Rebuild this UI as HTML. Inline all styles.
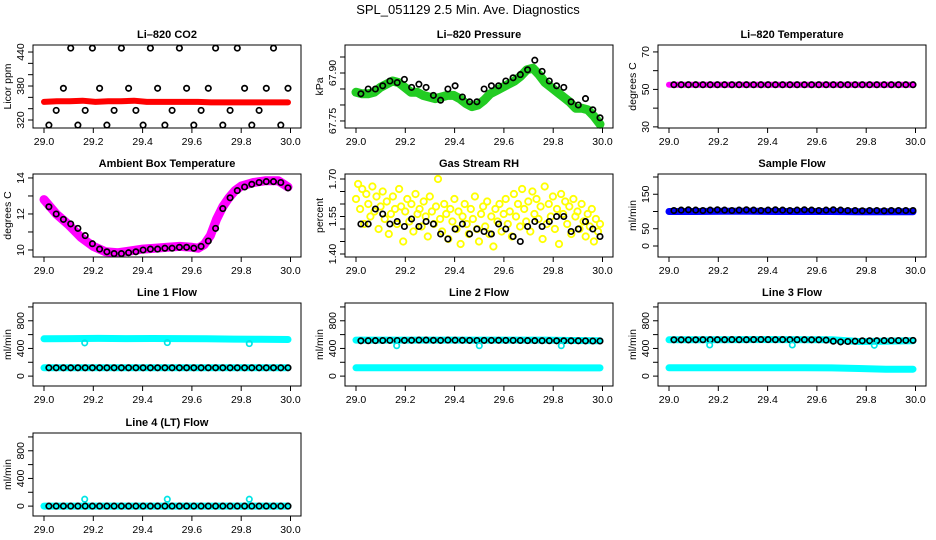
<!DOCTYPE html>
<html><head><meta charset="utf-8"><style>
html,body{margin:0;padding:0;background:#fff;}
svg{display:block;font-family:"Liberation Sans",Arial,sans-serif;}
</style></head><body>
<svg id="c" width="936" height="540" viewBox="0 0 936 540" xmlns="http://www.w3.org/2000/svg">
<text x="468" y="14" text-anchor="middle" font-size="13">SPL_051129  2.5 Min. Ave. Diagnostics</text>
</svg>
<script>
// ---- data ----
const xTicks = [29.0, 29.2, 29.4, 29.6, 29.8, 30.0];
const xTickLabels = ["29.0","29.2","29.4","29.6","29.8","30.0"];
const blackStart = 29.02, blackEnd = 29.99, blackCount = 34;
const co2Black = [311,337,376,447,311,337,447,376,311,337,447,376,337,311,447,376,311,337,447,376,311,337,376,447,311,337,447,376,311,337,376,447,311,376];
const co2Red = [352,353,353,354,352,353,353,354,352,352,352,352,352,351,351,351,351,351,351,351];
const presGreen = [67.84,67.835,67.835,67.84,67.855,67.865,67.875,67.87,67.855,67.84,67.84,67.83,67.825,67.82,67.825,67.83,67.83,67.82,67.805,67.795,67.80,67.815,67.835,67.845,67.855,67.865,67.875,67.89,67.91,67.915,67.895,67.87,67.855,67.84,67.825,67.81,67.79,67.79,67.785,67.765,67.74];
const presBlack = [67.835,67.85,67.85,67.86,67.875,67.87,67.88,67.855,67.865,67.855,67.83,67.815,67.85,67.86,67.825,67.81,67.81,67.85,67.86,67.86,67.875,67.885,67.895,67.91,67.94,67.905,67.875,67.86,67.855,67.81,67.8,67.82,67.785,67.76];
const tempMagenta = [52.5,52.5,52.5,52.5,52.5,52.5];
const tempBlack = [52.5,52.5,52.5,52.5,52.5,52.5,52.5,52.5,52.5,52.5,52.5,52.5,52.5,52.5,52.5,52.5,52.5,52.5,52.5,52.5,52.5,52.5,52.5,52.5,52.5,52.5,52.5,52.5,52.5,52.5,52.5,52.5,52.5,52.5];
const ambTimes = [29.0,29.05,29.1,29.15,29.2,29.25,29.3,29.35,29.4,29.45,29.5,29.55,29.6,29.625,29.65,29.675,29.7,29.725,29.75,29.775,29.8,29.85,29.9,29.95,29.99];
const ambMagenta = [12.8,12.0,11.4,10.7,10.2,9.9,9.85,9.95,10.05,10.1,10.15,10.2,10.15,10.1,10.3,10.8,11.7,12.4,12.9,13.3,13.55,13.75,13.85,13.85,13.5];
const ambBlack = [12.4,12.0,11.7,11.45,11.2,10.8,10.35,10.05,9.9,9.8,9.8,9.85,9.9,10.0,10.05,10.05,10.1,10.1,10.15,10.15,10.1,10.2,10.5,11.2,12.3,12.9,13.3,13.5,13.65,13.75,13.8,13.8,13.75,13.45];
const rhYellow = [1.62,1.68,1.58,1.66,1.52,1.64,1.60,1.55,1.67,1.57,1.63,1.50,1.59,1.65,1.54,1.61,1.48,1.56,1.63,1.58,1.52,1.66,1.59,1.45,1.57,1.62,1.53,1.60,1.49,1.64,1.56,1.58,1.51,1.61,1.55,1.47,1.63,1.57,1.52,1.59,1.70,1.54,1.49,1.60,1.56,1.46,1.58,1.53,1.62,1.50,1.57,1.44,1.55,1.60,1.52,1.48,1.58,1.54,1.63,1.50,1.45,1.56,1.59,1.51,1.61,1.48,1.55,1.43,1.58,1.53,1.60,1.49,1.56,1.62,1.52,1.57,1.47,1.64,1.55,1.60,1.51,1.66,1.58,1.53,1.61,1.49,1.65,1.56,1.62,1.54,1.59,1.46,1.67,1.52,1.60,1.55,1.63,1.50,1.58,1.44,1.64,1.56,1.61,1.52,1.59,1.48,1.62,1.55,1.57,1.50,1.60,1.53,1.47,1.56,1.51,1.58,1.45,1.54,1.49,1.52];
const rhBlack = [1.52,1.52,1.58,1.56,1.52,1.53,1.51,1.54,1.51,1.53,1.52,1.48,1.46,1.50,1.52,1.48,1.50,1.49,1.48,1.52,1.50,1.47,1.45,1.51,1.53,1.51,1.53,1.55,1.55,1.49,1.50,1.53,1.50,1.47];
const sfBlue = [100,100,101,101,100,100,100,99,99,99];
const sfBlack = [103,104,105,104,103,104,105,104,103,104,105,104,103,104,105,104,103,104,105,104,103,104,105,104,103,103,102,103,103,102,103,103,103,103];
const l1CyanHigh = [540,542,545,543,544,542,540,535,532,530];
const l1CyanLow = [120,120,120,120,120,120,120,120,120,120];
const l1Black = [120,120,120,120,120,120,120,120,120,120,120,120,120,120,120,120,120,120,120,120,120,120,120,120,120,120,120,120,120,120,120,120,120,120];
const l1Outliers = [480,485,470];
const l2CyanHigh = [520,520,520,520,520,520,520,520,515,510];
const l2CyanLow = [120,120,120,120,120,120,120,120,118,118];
const l2Black = [510,512,513,515,516,515,517,518,520,520,518,517,520,519,518,517,515,516,517,518,517,516,515,514,513,512,512,511,510,510,510,509,508,508];
const l2Outliers = [440,440,440];
const l3CyanHigh = [525,525,527,528,528,527,526,500,505,510];
const l3CyanLow = [120,120,120,120,120,120,118,110,100,100];
const l3Black = [525,525,524,525,526,527,526,527,528,526,527,528,529,528,527,528,527,526,526,525,525,520,505,495,500,505,510,510,512,513,515,515,516,516];
const l3Outliers = [450,450,445];
const l4Cyan = [0,0,0,0,0,0,0,0,0,0];
const l4Black = [0,0,0,0,0,0,0,0,0,0,0,0,0,0,0,0,0,0,0,0,0,0,0,0,0,0,0,0,0,0,0,0,0,0];
const l4Outliers = [100,100,100];
const outlierTimes = [29.165, 29.5, 29.833];

// ---- layout ----
const NS = "http://www.w3.org/2000/svg";
const svg = document.getElementById("c");
const colLeft = [33, 345, 658], rowTop = [45, 174, 303, 433];
const boxW = 268, boxH = 83;
function el(tag, attrs, parent) {
  const e = document.createElementNS(NS, tag);
  for (const k in attrs) e.setAttribute(k, attrs[k]);
  (parent || svg).appendChild(e);
  return e;
}
function blackTimes(n) { const a = []; for (let i = 0; i < n; i++) a.push(blackStart + (blackEnd - blackStart) * i / (n - 1)); return a; }
function evenTimes(n) { const a = []; for (let i = 0; i < n; i++) a.push(29.0 + 0.99 * i / (n - 1)); return a; }

const panels = [
 {name:"co2",col:0,row:0,title:"Li\u2013820 CO2",ylab:"Licor ppm",ymin:305.9,ymax:452.4,ticks:[320,340,360,380,400,420,440],labels:{320:"320",380:"380",440:"440"},
  bands:[{v:co2Red,c:"#ff0000",w:6}],points:[{v:co2Black,c:"#000"}]},
 {name:"pressure",col:1,row:0,title:"Li\u2013820 Pressure",ylab:"kPa",ymin:67.728,ymax:67.9875,ticks:[67.75,67.80,67.85,67.90,67.95],labels:{67.75:"67.75",67.90:"67.90"},
  bands:[{v:presGreen,c:"#22cc22",w:9}],points:[{v:presBlack,c:"#000"}]},
 {name:"temperature",col:2,row:0,title:"Li\u2013820 Temperature",ylab:"degrees C",ymin:29.4,ymax:73.7,ticks:[30,40,50,60,70],labels:{30:"30",50:"50",70:"70"},
  bands:[{v:tempMagenta,c:"#ff00ff",w:6}],points:[{v:tempBlack,c:"#000"}]},
 {name:"ambient",col:0,row:1,title:"Ambient Box Temperature",ylab:"degrees C",ymin:9.61,ymax:14.22,ticks:[10,11,12,13,14],labels:{10:"10",12:"12",14:"14"},
  bands:[{v:ambMagenta,t:ambTimes,c:"#ff00ff",w:9}],points:[{v:ambBlack,c:"#000"}]},
 {name:"rh",col:1,row:1,title:"Gas Stream RH",ylab:"percent",ymin:1.388,ymax:1.72,ticks:[1.40,1.45,1.50,1.55,1.60,1.65,1.70],labels:{1.40:"1.40",1.55:"1.55",1.70:"1.70"},
  bands:[],points:[{v:rhYellow,c:"#ffff00",even:true,r:3.2,sw:1.8},{v:rhBlack,c:"#000"}]},
 {name:"sample-flow",col:2,row:1,title:"Sample Flow",ylab:"ml/min",ymin:-31.9,ymax:208.7,ticks:[0,50,100,150,200],labels:{0:"0",50:"50",150:"150"},
  bands:[{v:sfBlue,c:"#0000ff",w:7}],points:[{v:sfBlack,c:"#000"}]},
 {name:"line1-flow",col:0,row:2,title:"Line 1 Flow",ylab:"ml/min",ymin:-143,ymax:1057,ticks:[0,200,400,600,800,1000],labels:{0:"0",400:"400",800:"800"},
  bands:[{v:l1CyanHigh,c:"#00ffff",w:7},{v:l1CyanLow,c:"#00ffff",w:7}],points:[{v:l1Black,c:"#000"},{v:l1Outliers,t:outlierTimes,c:"#00e5e5"}]},
 {name:"line2-flow",col:1,row:2,title:"Line 2 Flow",ylab:"ml/min",ymin:-143,ymax:1057,ticks:[0,200,400,600,800,1000],labels:{0:"0",400:"400",800:"800"},
  bands:[{v:l2CyanHigh,c:"#00ffff",w:7},{v:l2CyanLow,c:"#00ffff",w:7}],points:[{v:l2Black,c:"#000"},{v:l2Outliers,t:outlierTimes,c:"#00e5e5"}]},
 {name:"line3-flow",col:2,row:2,title:"Line 3 Flow",ylab:"ml/min",ymin:-143,ymax:1057,ticks:[0,200,400,600,800,1000],labels:{0:"0",400:"400",800:"800"},
  bands:[{v:l3CyanHigh,c:"#00ffff",w:7},{v:l3CyanLow,c:"#00ffff",w:7}],points:[{v:l3Black,c:"#000"},{v:l3Outliers,t:outlierTimes,c:"#00e5e5"}]},
 {name:"line4-flow",col:0,row:3,title:"Line 4 (LT) Flow",ylab:"ml/min",ymin:-143,ymax:1057,ticks:[0,200,400,600,800,1000],labels:{0:"0",400:"400",800:"800"},
  bands:[{v:l4Cyan,c:"#00ffff",w:7}],points:[{v:l4Black,c:"#000"},{v:l4Outliers,t:outlierTimes,c:"#00e5e5"}]}
];

panels.forEach(p => {
  const L = colLeft[p.col], T = rowTop[p.row], B = T + boxH;
  const xs = v => L + 11 + (v - 29.0) * 246.5;
  const ys = v => B - (v - p.ymin) / (p.ymax - p.ymin) * boxH;
  const g = el("g", {});
  
  
  const tt = el("text", {x: L + boxW/2, y: T - 7, "text-anchor":"middle", "font-size":"11", "font-weight":"bold"}, g);
  tt.textContent = p.title;
  
  
  p.bands.forEach(b => {
    const t = b.t || evenTimes(b.v.length);
    const pts = b.v.map((v, i) => xs(t[i]).toFixed(1) + "," + ys(v).toFixed(1)).join(" ");
    const pl = el("polyline", {points: pts, fill:"none", stroke:b.c, "stroke-width":b.w, "stroke-linejoin":"round", "stroke-linecap":"round"}, g);
    
    
  });
  p.points.forEach(s => {
    const t = s.t || (s.even ? evenTimes(s.v.length) : blackTimes(s.v.length));
    s.v.forEach((v, i) => {
      const c = el("circle", {cx: xs(t[i]).toFixed(1), cy: ys(v).toFixed(1), r: s.r || 2.7, fill:"none", stroke:s.c, "stroke-width":s.sw || 1.7}, g);
      
      
    });
  });
  const rect = el("rect", {x: L, y: T, width: boxW, height: boxH, fill:"none", stroke:"#000", "stroke-width":1}, g);
  
  
  xTicks.forEach((v, i) => {
    const x = xs(v);
    el("line", {x1:x, x2:x, y1:B, y2:B+5, stroke:"#000"}, g);
    const tx = el("text", {x:x, y:B+17, "text-anchor":"middle", "font-size":"10.5"}, g);
    tx.textContent = xTickLabels[i];
    
    
  });
  p.ticks.forEach(v => {
    const y = ys(v);
    el("line", {x1:L-5, x2:L, y1:y, y2:y, stroke:"#000"}, g);
    if (p.labels[v] !== undefined) {
      const ty = el("text", {x:0, y:0, "text-anchor":"middle", "font-size":"10.5", transform:`translate(${L-9},${y}) rotate(-90)`}, g);
      ty.textContent = p.labels[v];
      
      
    }
  });
  const yl = el("text", {x:0, y:0, "text-anchor":"middle", "font-size":"10.5", transform:`translate(${L-22},${T+boxH/2}) rotate(-90)`}, g);
  yl.textContent = p.ylab;
  
  
});
</script>
</body></html>
